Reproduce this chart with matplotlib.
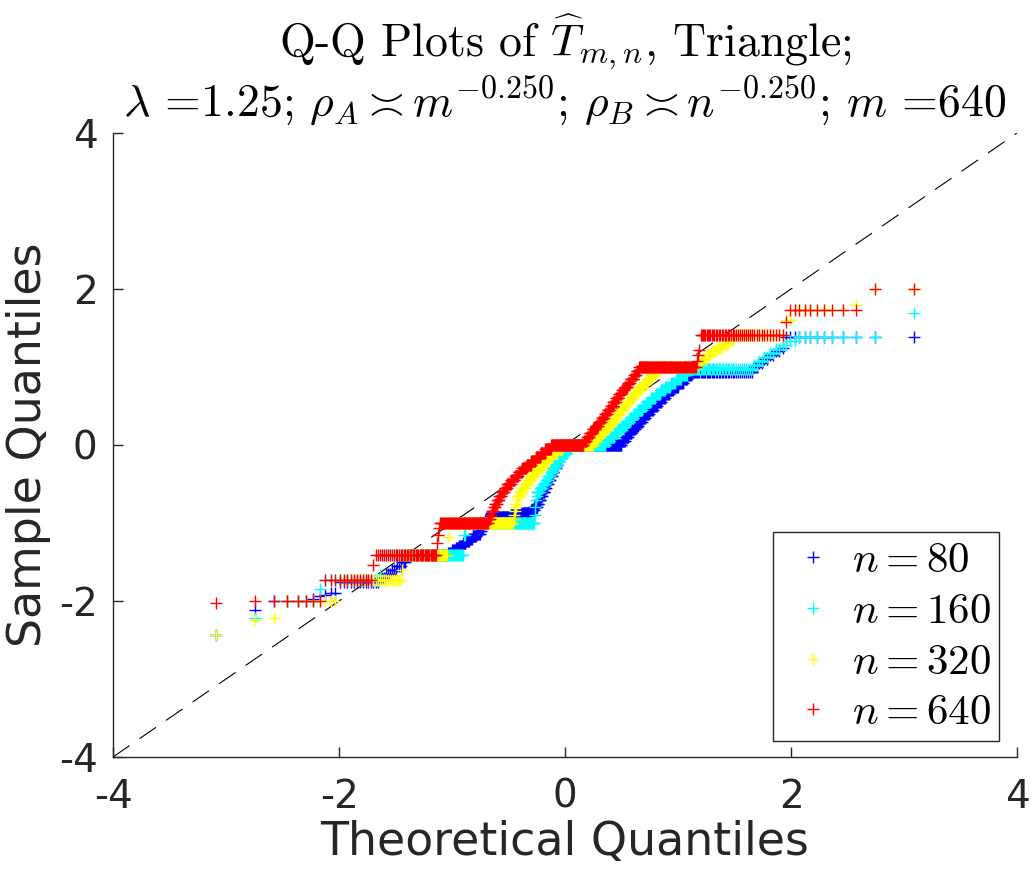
import matplotlib
matplotlib.use('Agg')
import matplotlib.pyplot as plt
import numpy as np
from statistics import NormalDist

plt.rcParams['font.family'] = ['DejaVu Sans']
plt.rcParams['mathtext.fontset'] = 'cm'
plt.rcParams['axes.unicode_minus'] = False

# sorted sample values of each run, stored as (level, number of points at that level)
blue_vals = [-2.44, -2.12, -2.0, -1.97, -1.94, -1.92, -1.9, -1.75,
             -1.7, -1.65, -1.6, -1.55, -1.5, -1.41,
             -1.38, -1.35, -1.32, -1.29, -1.26, -1.23, -1.2, -1.17, -1.14,
             -1.1, -1.05, -1.0, -0.96, -0.94, -0.92, -0.9, -0.87,
             -0.83, -0.8, -0.75, -0.7, -0.65, -0.6, -0.55, -0.5, -0.45, -0.4,
             -0.35, -0.3, -0.25, -0.2, -0.15, -0.1, -0.05, 0.0,
             0.05, 0.1, 0.15, 0.2, 0.25, 0.3, 0.35, 0.4, 0.45, 0.5, 0.55, 0.6,
             0.65, 0.7, 0.75, 0.8, 0.85, 0.9, 0.94,
             1.0, 1.05, 1.1, 1.15, 1.2, 1.25, 1.38]
blue_counts = [1, 1, 4, 1, 1, 1, 2, 14,
               3, 3, 3, 3, 3, 35,
               4, 4, 4, 4, 4, 4, 4, 5, 5,
               2, 2, 2, 2, 18, 18, 17, 17,
               5, 5, 3, 3, 3, 4, 3, 3, 4, 3,
               3, 4, 3, 3, 4, 3, 3, 96,
               5, 5, 5, 5, 5, 5, 5, 5, 5, 5, 5, 5,
               5, 5, 5, 5, 4, 4, 42,
               2, 2, 2, 2, 2, 1, 13]

cyan_vals = [-2.44, -2.22, -2.0, -1.85, -1.73, -1.67, -1.41, -1.15, -1.0,
             -0.9, -0.8, -0.7, -0.65, -0.6, -0.55, -0.5, -0.45,
             -0.4, -0.35, -0.3, -0.25, -0.2, -0.15, -0.1, -0.05, 0.0,
             0.05, 0.1, 0.15, 0.2, 0.25, 0.3, 0.35, 0.4, 0.45, 0.5, 0.55, 0.6,
             0.65, 0.7, 0.75, 0.8, 0.85, 0.9, 0.97,
             1.03, 1.08, 1.13, 1.18, 1.23, 1.28, 1.33, 1.38, 1.69]
cyan_counts = [1, 1, 5, 1, 17, 1, 66, 2, 103,
               1, 1, 1, 1, 5, 5, 5, 4,
               4, 4, 4, 4, 4, 7, 7, 6, 60,
               7, 7, 6, 6, 6, 6, 6, 6, 6, 6, 6, 6,
               6, 6, 6, 6, 6, 6, 46,
               2, 2, 2, 2, 2, 2, 2, 9, 1]

yellow_vals = [-2.44, -2.24, -2.22, -2.0, -1.73, -1.6, -1.41, -1.18, -1.0,
               -0.95, -0.9, -0.85, -0.8, -0.75, -0.7,
               -0.65, -0.6, -0.55, -0.5, -0.45, -0.4, -0.35, -0.3, -0.25, -0.2,
               -0.15, -0.1, -0.05, 0.0,
               0.05, 0.1, 0.15, 0.2, 0.25, 0.3, 0.35, 0.4, 0.45, 0.5, 0.55, 0.6,
               0.65, 0.7, 0.75, 0.8, 0.85, 0.9, 0.95, 1.0,
               1.05, 1.1, 1.15, 1.2, 1.25, 1.3, 1.35, 1.41, 1.6, 1.73, 1.8, 2.0]
yellow_counts = [1, 1, 1, 8, 26, 1, 37, 1, 86,
                 1, 1, 1, 1, 1, 1,
                 4, 4, 5, 4, 5, 6, 6, 6, 6, 5,
                 9, 9, 8, 54,
                 6, 6, 6, 6, 5, 5, 5, 5, 5, 5, 5, 5,
                 5, 5, 5, 5, 5, 5, 5, 41,
                 4, 4, 4, 4, 4, 4, 3, 21, 2, 8, 1, 2]

red_vals = [-2.02, -2.0, -1.73, -1.54, -1.41, -1.25, -1.15, -1.06, -1.0,
            -0.95, -0.9, -0.85, -0.8, -0.75, -0.7, -0.65, -0.6, -0.55,
            -0.5, -0.45, -0.4, -0.35, -0.3, -0.25, -0.2, -0.15, -0.1, -0.05, 0.0,
            0.05, 0.1, 0.15, 0.2, 0.25, 0.3, 0.35, 0.4, 0.45, 0.5, 0.55, 0.6,
            0.65, 0.7, 0.75, 0.8, 0.85, 0.9, 0.95, 1.0,
            1.08, 1.15, 1.22, 1.41, 1.58, 1.73, 2.0]
red_counts = [1, 7, 14, 1, 41, 1, 1, 1, 57,
              3, 2, 3, 2, 3, 3, 4, 4, 4,
              6, 6, 6, 6, 7, 8, 8, 8, 8, 10, 58,
              5, 5, 5, 5, 5, 5, 5, 5, 5, 4, 5, 4,
              5, 4, 5, 4, 5, 4, 4, 67,
              1, 1, 1, 45, 1, 10, 2]

series = [('$n = 80$', '#0000FF', blue_vals, blue_counts),
          ('$n = 160$', '#00FFFF', cyan_vals, cyan_counts),
          ('$n = 320$', '#FFFF00', yellow_vals, yellow_counts),
          ('$n = 640$', '#FF0000', red_vals, red_counts)]

W, H = 1032, 877
fig = plt.figure(figsize=(W / 100, H / 100), dpi=100)
ax = fig.add_axes([113 / W, 1 - 757 / H, 904 / W, 624 / H])

nd = NormalDist()
for lbl, col, vals, cnts in series:
    y = np.repeat(vals, cnts)
    n = len(y)
    x = np.array([nd.inv_cdf((i - 0.5) / n) for i in range(1, n + 1)])
    ax.plot(x, y, '+', color=col, ms=9, mew=1.0, label=lbl, zorder=3)

ax.plot([-4, 4], [-4, 4], color='k', lw=0.8, ls=(0, (18, 11)), zorder=2)

ax.set_xlim(-4, 4)
ax.set_ylim(-4, 4)
ax.set_xticks([-4, -2, 0, 2, 4])
ax.set_yticks([-4, -2, 0, 2, 4])
for s in ['top', 'right']:
    ax.spines[s].set_visible(False)
for s in ['left', 'bottom']:
    ax.spines[s].set_color('#262626')
    ax.spines[s].set_linewidth(1.0)
ax.tick_params(direction='in', length=7, width=1.0, colors='#262626',
               labelsize=28)
ax.tick_params(axis='x', pad=15)
ax.tick_params(axis='y', pad=11)
ax.set_xlabel('Theoretical Quantiles', fontsize=33, color='#262626', labelpad=3)
ax.set_ylabel('Sample Quantiles', fontsize=33, color='#262626', labelpad=6)

ax.set_title('Q-Q Plots of $\\widehat{T}_{m,n}$, Triangle;\n'
             '$\\lambda$ =1.25; $\\rho_A \\asymp m^{-0.250}$; '
             '$\\rho_B \\asymp n^{-0.250}$; $m$ =640',
             fontsize=33, fontfamily='cmr10', pad=12, linespacing=1.05)

leg = ax.legend(loc='lower right', bbox_to_anchor=(0.980, 0.0256),
                borderaxespad=0, fontsize=31, fancybox=False, framealpha=1,
                edgecolor='#262626', handlelength=1.5, handletextpad=0.15,
                borderpad=0.18, labelspacing=0.2, markerscale=1.0)
leg.get_frame().set_linewidth(1.0)

fig.savefig('out.png', dpi=100, facecolor='white')
